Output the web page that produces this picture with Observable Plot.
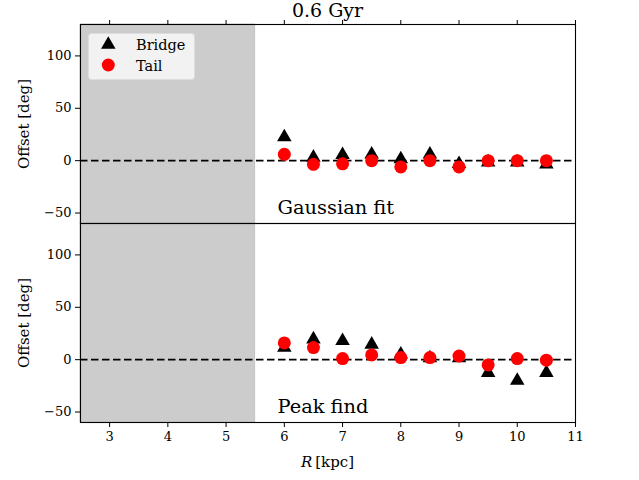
<!DOCTYPE html>
<html>
<head>
<meta charset="utf-8">
<script src="https://cdn.jsdelivr.net/npm/d3@7"></script>
<script src="https://cdn.jsdelivr.net/npm/@observablehq/plot@0.6"></script>
<style>
  html, body { margin: 0; padding: 0; background: white; }
  #wrap { position: relative; width: 639px; height: 480px; font-family: 'DejaVu Serif', 'Liberation Serif', serif; overflow: hidden; }
  #title { position: absolute; left: 80px; width: 495px; top: 1px; text-align: center; font-size: 19px; line-height: 19px; color: black; }
  #xlabel { position: absolute; left: 80px; width: 495px; top: 453px; text-align: center; font-size: 15px; line-height: 18px; color: black; }
  #legend { position: absolute; left: 88px; top: 33px; }
  #chart { position: absolute; left: 0; top: 0; }
  #chart svg text { font-family: 'DejaVu Serif', 'Liberation Serif', serif; }
</style>
</head>
<body>
<div id="wrap">
  <div id="chart"></div>
  <div id="title">0.6 Gyr</div>
  <div id="xlabel"><i>R</i>&#8201;[kpc]</div>
  <div id="legend"></div>
</div>
<script>
// ---- data ----
const radii = [6, 6.5, 7, 7.5, 8, 8.5, 9, 9.5, 10, 10.5];
const gaussBridge = [22.5, 3, 5.5, 6, 1.5, 6, -3, -1.5, -1.5, -3.5];
const gaussTail   = [6, -3.5, -3, 0, -6, 0, -6, 0, 0, 0];
const peakBridge  = [11.5, 19.5, 18, 14.5, 5, 1.5, 1.5, -12.5, -20, -12.5];
const peakTail    = [16, 11.5, 1, 4.5, 2, 2, 3.5, -5, 1, -0.5];
const panels = ["Gaussian fit", "Peak find"];
const seriesNames = ["Bridge", "Tail"];
const shadeRange = [{x1: 2.5, x2: 5.5}];
const zeroLine = [0];
const xTicks = [3, 4, 5, 6, 7, 8, 9, 10, 11];
const yTicks = [-50, 0, 50, 100];
const xDomain = [2.5, 11];
const yDomain = [-60, 130];

const serif = "DejaVu Serif, Liberation Serif, serif";

const rows = [];
function addRows(vals, series, panel) {
  vals.forEach((v, i) => rows.push({R: radii[i], value: v, series, panel}));
}
addRows(gaussBridge, "Bridge", panels[0]);
addRows(gaussTail, "Tail", panels[0]);
addRows(peakBridge, "Bridge", panels[1]);
addRows(peakTail, "Tail", panels[1]);

const bridge = rows.filter(d => d.series === "Bridge");
const tail = rows.filter(d => d.series === "Tail");
const panelLabels = panels.map(p => ({panel: p}));

const chart = Plot.plot({
  width: 639,
  height: 480,
  marginTop: 24,
  marginBottom: 58,
  marginLeft: 80,
  marginRight: 64,
  style: {fontFamily: serif, fontSize: "13px", background: "transparent", color: "black"},
  x: {domain: xDomain},
  y: {domain: yDomain},
  fy: {domain: panels, padding: 0, axis: null, label: null},
  marks: [
    Plot.rect(shadeRange, {x1: "x1", x2: "x2", fill: "#cccccc", stroke: "#bdbdbd", strokeWidth: 0.8}),
    Plot.ruleY(zeroLine, {stroke: "black", strokeWidth: 1.8, strokeDasharray: "7.5,3.5"}),
    Plot.dot(bridge, {x: "R", y: "value", fy: "panel", symbol: "triangle", r: 5.4, fill: "black", stroke: "none"}),
    Plot.dot(tail, {x: "R", y: "value", fy: "panel", symbol: "circle", r: 6.5, fill: "red", stroke: "none"}),
    Plot.text(panelLabels, {fy: "panel", text: "panel", frameAnchor: "bottom-left", dx: 197, dy: -16, textAnchor: "start", lineAnchor: "middle", fontSize: 19.4, fontFamily: serif, fill: "black"}),
    Plot.text(["Offset [deg]"], {text: d => d, frameAnchor: "left", textAnchor: "middle", lineAnchor: "middle", rotate: -90, dx: -56, fontSize: 15, fontFamily: serif, fill: "black"}),
    Plot.axisY({ticks: yTicks, tickSize: 5, tickPadding: 4, fontSize: 13, fontFamily: serif, label: null}),
    Plot.axisX({anchor: "bottom", ticks: xTicks, tickSize: 5, tickPadding: 4, fontSize: 13, fontFamily: serif, label: null}),
    Plot.axisX({anchor: "top", ticks: xTicks, tickSize: 5, tickFormat: () => "", label: null}),
    Plot.frame({stroke: "black", strokeWidth: 1.1})
  ]
});
document.getElementById("chart").appendChild(chart);

// legend (chrome, not data)
const lg = d3.select("#legend").append("svg")
  .attr("width", 108).attr("height", 48)
  .style("overflow", "visible");
lg.append("rect").attr("x", 0.5).attr("y", 0.5).attr("width", 106).attr("height", 46)
  .attr("rx", 3).attr("fill", "rgba(255,255,255,0.75)").attr("stroke", "#dddddd").attr("stroke-width", 1);
const cx = 20.3;
lg.append("path")
  .attr("d", d3.symbol(d3.symbolTriangle, 5.4 * 5.4 * Math.PI)())
  .attr("transform", `translate(${cx},${11.6})`)
  .attr("fill", "black");
lg.append("circle").attr("cx", cx).attr("cy", 32).attr("r", 6.5).attr("fill", "red");
seriesNames.forEach((name, i) => {
  lg.append("text").attr("x", 48).attr("y", 17 + i * 21)
    .attr("font-family", serif).attr("font-size", 14.5).attr("fill", "black")
    .text(name);
});
</script>
</body>
</html>
